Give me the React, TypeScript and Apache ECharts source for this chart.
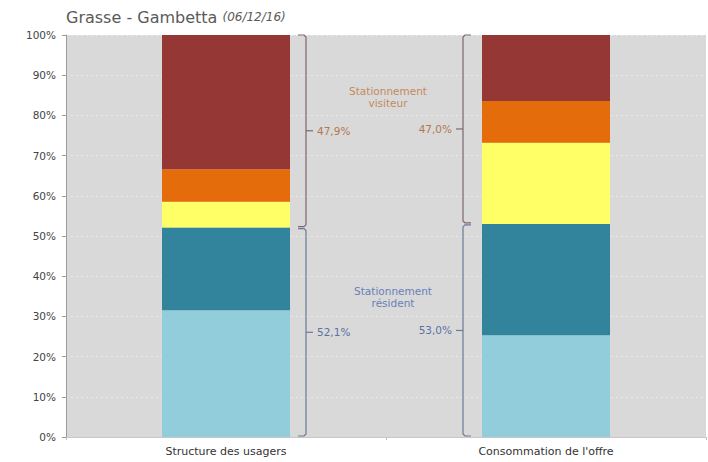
import React, { useEffect, useRef } from 'react';
import * as echarts from 'echarts';

const categories = ['Structure des usagers', "Consommation de l'offre"];
// stacked shares (%) bottom to top
const residentLight = [31.5, 25.3];
const residentDark = [20.6, 27.7];
const visitorYellow = [6.4, 20.2];
const visitorOrange = [8.1, 10.4];
const visitorRed = [33.4, 16.4];
const seriesNames = ['Résident 1', 'Résident 2', 'Visiteur 1', 'Visiteur 2', 'Visiteur 3'];
const seriesColors = ['#92CDDC', '#31849B', '#FFFF66', '#E46C0A', '#953735'];
const groupLabels = ['Stationnement\nvisiteur', 'Stationnement\nrésident'];
const groupLabelLevels = [84.5, 34.8];

const FONT = 'DejaVu Sans';

function fmt(v: number) {
  return v.toFixed(1).replace('.', ',') + '%';
}

export default function App() {
  const ref = useRef<HTMLDivElement>(null);
  useEffect(() => {
    if (!ref.current) return;
    const chart = echarts.init(ref.current, undefined, { renderer: 'svg' });
    const data = [residentLight, residentDark, visitorYellow, visitorOrange, visitorRed];
    const option: any = {
      animation: false,
      title: {
        text: 'Grasse - Gambetta {i|(06/12/16)}',
        left: 61,
        top: 4,
        textStyle: {
          fontFamily: FONT,
          fontSize: 16,
          fontWeight: 'normal',
          color: '#5a5a5a',
          rich: {
            i: { fontFamily: FONT, fontStyle: 'italic', fontSize: 12, color: '#5a5a5a' },
          },
        },
      },
      grid: {
        left: 66,
        right: 2,
        top: 35,
        bottom: 25,
        show: true,
        backgroundColor: '#d9d9d9',
        borderWidth: 0,
      },
      xAxis: {
        type: 'category',
        data: categories,
        axisLine: { show: true, lineStyle: { color: '#c8c8c8', width: 1 } },
        axisTick: { show: true, length: 3, lineStyle: { color: '#c0c0c0' } },
        axisLabel: { fontFamily: FONT, fontSize: 11, color: '#333', margin: 9 },
      },
      yAxis: {
        type: 'value',
        min: 0,
        max: 100,
        interval: 10,
        axisLine: { show: true, lineStyle: { color: '#9a9a9a', width: 1 } },
        axisTick: { show: true, length: 4, lineStyle: { color: '#9a9a9a' } },
        axisLabel: { fontFamily: FONT, fontSize: 10.5, color: '#444', formatter: '{value}%', margin: 10 },
        splitLine: { show: true, lineStyle: { color: '#e9e9e9', type: [2, 3], width: 1 } },
      },
      series: data.map((d, i) => ({
        type: 'bar',
        name: seriesNames[i],
        stack: 'total',
        data: d,
        barWidth: '40%',
        itemStyle: { color: seriesColors[i] },
      })),
    };
    chart.setOption(option);

    const px = (i: number) => chart.convertToPixel({ xAxisIndex: 0 }, i) as number;
    const py = (v: number) => chart.convertToPixel({ yAxisIndex: 0 }, v) as number;
    const c0 = px(0);
    const c1 = px(1);
    const half = (c1 - c0) * 0.2;

    const resTotals = [0, 1].map((i) => residentLight[i] + residentDark[i]);
    const visTotals = [0, 1].map((i) => visitorYellow[i] + visitorOrange[i] + visitorRed[i]);

    const visColor = '#7e6570';
    const resColor = '#6b7a93';
    const visText = '#b5784e';
    const resText = '#5d71a3';

    const elements: any[] = [];
    const brace = (x: number, y0: number, y1: number, dir: number, color: string, textColor: string, label: string) => {
      const h = -dir;
      elements.push({
        type: 'polyline',
        shape: {
          points: [
            [x + h * 8, y0],
            [x + h * 2, y0],
            [x, y0 + 2],
            [x, y1 - 2],
            [x + h * 2, y1],
            [x + h * 8, y1],
          ],
        },
        style: { stroke: color, lineWidth: 1.2, fill: null },
        z: 100,
      });
      const ym = (y0 + y1) / 2;
      elements.push({
        type: 'line',
        shape: { x1: x, y1: ym, x2: x + dir * 7, y2: ym },
        style: { stroke: color, lineWidth: 1.2 },
        z: 100,
      });
      elements.push({
        type: 'text',
        x: x + dir * 11,
        y: ym,
        style: {
          text: label,
          fill: textColor,
          font: `10.5px "${FONT}"`,
          textAlign: dir > 0 ? 'left' : 'right',
          textVerticalAlign: 'middle',
        },
        z: 100,
      });
    };

    const xb0 = c0 + half + 16;
    const xb1 = c1 - half - 19;
    brace(xb0, py(100), py(resTotals[0]) - 1, 1, visColor, visText, fmt(visTotals[0]));
    brace(xb0, py(resTotals[0]) + 1, py(0) - 1, 1, resColor, resText, fmt(resTotals[0]));
    brace(xb1, py(100), py(resTotals[1]) - 1, -1, visColor, visText, fmt(visTotals[1]));
    brace(xb1, py(resTotals[1]) + 1, py(0) - 1, -1, resColor, resText, fmt(resTotals[1]));

    const mid = (c0 + c1) / 2 + 2;
    elements.push({
      type: 'text',
      x: mid,
      y: py(groupLabelLevels[0]),
      style: {
        text: groupLabels[0],
        fill: '#c48a5c',
        font: `10.5px "${FONT}"`,
        textAlign: 'center',
        textVerticalAlign: 'middle',
        lineHeight: 12,
      },
      z: 100,
    });
    elements.push({
      type: 'text',
      x: mid + 5,
      y: py(groupLabelLevels[1]),
      style: {
        text: groupLabels[1],
        fill: '#6a80b8',
        font: `10.5px "${FONT}"`,
        textAlign: 'center',
        textVerticalAlign: 'middle',
        lineHeight: 12,
      },
      z: 100,
    });

    chart.setOption({ graphic: { elements } });

    return () => chart.dispose();
  }, []);
  return (
    <div
      ref={ref}
      style={{ position: 'fixed', left: 0, top: 0, width: 708, height: 462, background: '#fff' }}
    />
  );
}
